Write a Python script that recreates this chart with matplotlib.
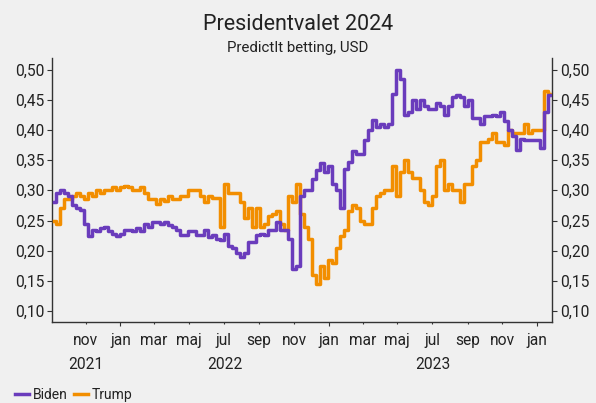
import pandas as pd
import matplotlib
matplotlib.use('Agg')
import matplotlib.pyplot as plt
import matplotlib.dates as mdates
import matplotlib.transforms as mtransforms
from matplotlib.ticker import FuncFormatter

plt.rcParams['font.family'] = ['Roboto', 'DejaVu Sans']

# weekly readings, first one on start_date
start_date = '2021-09-07'

biden = [0.280, 0.295, 0.300, 0.295, 0.290, 0.275, 0.270, 0.268, 0.245, 0.225,
         0.235, 0.232, 0.238, 0.240, 0.232, 0.228, 0.225, 0.228, 0.235, 0.235,
         0.232, 0.238, 0.232, 0.245, 0.240, 0.248, 0.248, 0.245, 0.248, 0.242,
         0.240, 0.235, 0.226, 0.226, 0.232, 0.232, 0.226, 0.226, 0.235, 0.222,
         0.226, 0.220, 0.218, 0.228, 0.207, 0.205, 0.196, 0.190, 0.196, 0.215,
         0.215, 0.226, 0.228, 0.226, 0.235, 0.235, 0.248, 0.235, 0.235, 0.220,
         0.170, 0.175, 0.290, 0.300, 0.300, 0.318, 0.334, 0.345, 0.330, 0.340,
         0.310, 0.300, 0.270, 0.335, 0.347, 0.365, 0.360, 0.360, 0.383, 0.400,
         0.417, 0.405, 0.410, 0.405, 0.410, 0.460, 0.500, 0.485, 0.425, 0.430,
         0.450, 0.435, 0.450, 0.440, 0.435, 0.435, 0.445, 0.440, 0.425, 0.440,
         0.455, 0.458, 0.455, 0.440, 0.450, 0.420, 0.420, 0.410, 0.423, 0.423,
         0.425, 0.423, 0.430, 0.415, 0.400, 0.390, 0.367, 0.385, 0.383, 0.383,
         0.383, 0.383, 0.370, 0.430, 0.458]

trump = [0.250, 0.245, 0.270, 0.285, 0.285, 0.290, 0.295, 0.290, 0.285, 0.295,
         0.290, 0.300, 0.295, 0.300, 0.300, 0.305, 0.300, 0.305, 0.307, 0.305,
         0.300, 0.300, 0.305, 0.295, 0.285, 0.285, 0.278, 0.285, 0.283, 0.290,
         0.285, 0.285, 0.290, 0.290, 0.300, 0.300, 0.300, 0.290, 0.280, 0.290,
         0.288, 0.288, 0.240, 0.310, 0.295, 0.295, 0.295, 0.280, 0.254, 0.270,
         0.240, 0.270, 0.240, 0.245, 0.257, 0.260, 0.265, 0.245, 0.235, 0.290,
         0.280, 0.310, 0.260, 0.240, 0.220, 0.160, 0.145, 0.175, 0.155, 0.185,
         0.180, 0.205, 0.225, 0.235, 0.265, 0.275, 0.270, 0.250, 0.245, 0.245,
         0.270, 0.290, 0.295, 0.300, 0.300, 0.340, 0.290, 0.330, 0.350, 0.330,
         0.320, 0.320, 0.300, 0.280, 0.275, 0.290, 0.340, 0.350, 0.300, 0.310,
         0.300, 0.300, 0.280, 0.310, 0.310, 0.340, 0.350, 0.380, 0.380, 0.385,
         0.395, 0.380, 0.380, 0.375, 0.400, 0.395, 0.395, 0.395, 0.410, 0.395,
         0.400, 0.400, 0.400, 0.465, 0.460]

month_names = {1: 'jan', 3: 'mar', 5: 'maj', 7: 'jul', 9: 'sep', 11: 'nov'}
year_labels = ['2021', '2022', '2023']

dates = pd.date_range(start_date, periods=len(biden), freq='7D')

BG = '#f0f0f0'
BIDEN_C = '#6a3cbc'
TRUMP_C = '#f28e00'
TXT = '#222222'

fig = plt.figure(figsize=(5.96, 4.03), dpi=100, facecolor=BG)
ax = fig.add_axes([0.0872, 0.201, 0.839, 0.655], facecolor=BG)

# prices move in steps, so draw them as steps
ax.plot(dates, trump, color=TRUMP_C, lw=2.5, drawstyle='steps-mid', label='Trump', zorder=3)
ax.plot(dates, biden, color=BIDEN_C, lw=2.5, drawstyle='steps-mid', label='Biden', zorder=4)

x0 = pd.Timestamp('2021-09-03')
x1 = pd.Timestamp('2024-01-27')
ax.set_xlim(x0, x1)
ax.set_ylim(0.082, 0.519)

ax.set_yticks([0.10, 0.15, 0.20, 0.25, 0.30, 0.35, 0.40, 0.45, 0.50])
ax.yaxis.set_major_formatter(FuncFormatter(lambda v, p: f'{v:.2f}'.replace('.', ',')))
ax.tick_params(axis='y', which='both', left=True, right=True, labelleft=True, labelright=True,
               length=3.5, width=0.8, color='#333333', labelsize=11.2, labelcolor=TXT, pad=2)

# jan gets a longer tick, the other months a short one
ax.xaxis.set_major_locator(mdates.MonthLocator(bymonth=[1]))
ax.xaxis.set_minor_locator(mdates.MonthLocator(bymonth=[3, 5, 7, 9, 11]))
fmt = FuncFormatter(lambda v, p: month_names[mdates.num2date(v).month])
ax.xaxis.set_major_formatter(fmt)
ax.xaxis.set_minor_formatter(fmt)
ax.tick_params(axis='x', which='major', length=3, width=0.8, color='#333333',
               labelsize=11.2, labelcolor=TXT, pad=5)
ax.tick_params(axis='x', which='minor', length=1.5, width=0.8, color='#333333',
               labelsize=11.2, labelcolor=TXT, pad=6.5)

# year labels centred under each year's visible span
trans = mtransforms.blended_transform_factory(ax.transData, ax.transAxes)
for yl in year_labels:
    a = max(pd.Timestamp(f'{yl}-01-01'), x0)
    b = min(pd.Timestamp(f'{int(yl) + 1}-01-01'), x1)
    mid = a + (b - a) / 2
    ax.text(mdates.date2num(mid), -0.16, yl, transform=trans, ha='center', va='center',
            fontsize=11.2, color=TXT)

for s in ['left', 'right', 'bottom']:
    ax.spines[s].set_color('#333333')
    ax.spines[s].set_linewidth(1.0)
ax.spines['top'].set_visible(False)
ax.grid(False)

fig.text(0.5, 1 - 24 / 403, 'Presidentvalet 2024', ha='center', va='center',
         fontsize=15.5, color=TXT)
fig.text(0.5, 1 - 48 / 403, 'PredictIt betting, USD', ha='center', va='center',
         fontsize=10.8, color=TXT)

handles, labels = ax.get_legend_handles_labels()
fig.legend(handles[::-1], labels[::-1], loc='center left', bbox_to_anchor=(0.025, 1 - 395 / 403),
           ncol=2, frameon=False, handlelength=1.0, handletextpad=0.3, columnspacing=0.45,
           fontsize=10, borderaxespad=0, borderpad=0, labelcolor=TXT)

fig.savefig('out.png', dpi=100, facecolor=BG)
